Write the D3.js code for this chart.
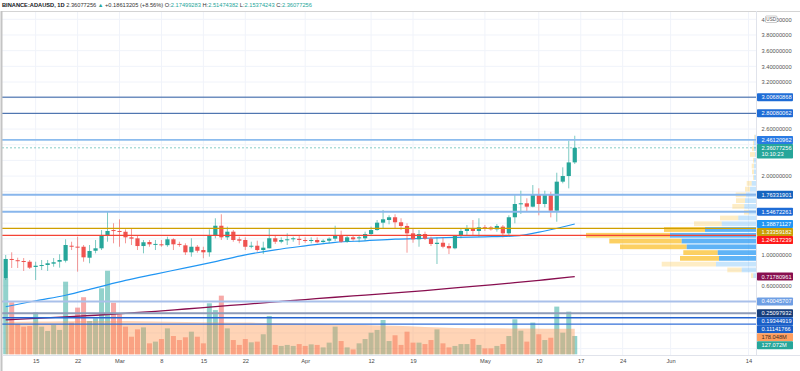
<!DOCTYPE html>
<html>
<head>
<meta charset="utf-8">
<script src="https://cdn.jsdelivr.net/npm/d3@7"></script>
<style>
  body { margin: 0; background: #fff; }
  svg { display: block; font-family: "Liberation Sans", Arial, sans-serif; }
</style>
</head>
<body>
<script>
// ---- data ----
const firstDay = "2021-02-10";
const opens = [0.696, 0.943, 0.927, 0.917, 0.908, 0.841, 0.853, 0.866, 0.883, 0.908,
  0.921, 1.112, 1.100, 1.099, 0.959, 1.048, 1.079, 1.236, 1.312, 1.300,
  1.290, 1.219, 1.206, 1.108, 1.159, 1.125, 1.130, 1.119, 1.194, 1.135,
  1.117, 1.028, 1.099, 1.057, 1.028, 1.240, 1.367, 1.219, 1.291, 1.194,
  1.185, 1.099, 1.112, 1.057, 1.079, 1.207, 1.163, 1.185, 1.194, 1.200,
  1.185, 1.180, 1.185, 1.159, 1.176, 1.202, 1.240, 1.163, 1.219, 1.207,
  1.207, 1.261, 1.312, 1.406, 1.440, 1.475, 1.411, 1.364, 1.270, 1.194,
  1.261, 1.202, 1.134, 1.150, 1.108, 1.079, 1.236, 1.300, 1.334, 1.300,
  1.347, 1.345, 1.321, 1.355, 1.270, 1.475, 1.644, 1.653, 1.610, 1.759,
  1.644, 1.759, 1.559, 1.929, 2.001, 2.17499283];
const highs = [0.994, 1.028, 0.959, 0.955, 0.930, 0.908, 0.930, 0.930, 0.955, 1.003,
  1.194, 1.163, 1.227, 1.121, 1.121, 1.185, 1.312, 1.546, 1.398, 1.449,
  1.321, 1.334, 1.236, 1.185, 1.185, 1.185, 1.185, 1.227, 1.207, 1.163,
  1.143, 1.207, 1.121, 1.099, 1.321, 1.462, 1.513, 1.355, 1.312, 1.227,
  1.219, 1.163, 1.176, 1.163, 1.334, 1.236, 1.219, 1.270, 1.227, 1.236,
  1.219, 1.219, 1.219, 1.194, 1.219, 1.367, 1.304, 1.236, 1.249, 1.240,
  1.291, 1.355, 1.440, 1.568, 1.500, 1.513, 1.462, 1.398, 1.334, 1.312,
  1.291, 1.227, 1.219, 1.219, 1.143, 1.249, 1.334, 1.376, 1.440, 1.462,
  1.376, 1.364, 1.389, 1.376, 1.500, 1.759, 1.814, 1.717, 1.886, 1.844,
  1.814, 1.800, 2.043, 2.112, 2.452, 2.51474382];
const lows = [0.675, 0.828, 0.828, 0.790, 0.815, 0.675, 0.802, 0.790, 0.844, 0.832,
  0.898, 1.057, 0.781, 0.908, 0.888, 1.015, 1.057, 1.163, 1.143, 1.099,
  1.143, 1.121, 1.057, 1.015, 1.099, 1.057, 1.099, 1.099, 1.057, 1.099,
  0.994, 0.972, 1.023, 0.952, 0.972, 1.207, 1.185, 1.185, 1.163, 1.143,
  1.057, 1.079, 1.036, 1.006, 1.079, 1.134, 1.143, 1.121, 1.163, 1.121,
  1.150, 1.143, 1.143, 1.150, 1.143, 1.172, 1.150, 1.150, 1.176, 1.156,
  1.176, 1.236, 1.304, 1.334, 1.385, 1.334, 1.312, 1.023, 1.150, 1.099,
  1.185, 1.108, 0.879, 1.079, 1.006, 1.066, 1.207, 1.249, 1.249, 1.227,
  1.300, 1.304, 1.291, 1.219, 1.249, 1.398, 1.517, 1.546, 1.602, 1.500,
  1.602, 1.474, 1.418, 1.908, 1.844, 2.15374243];
const closes = [0.943, 0.930, 0.915, 0.908, 0.832, 0.857, 0.866, 0.888, 0.901, 0.930,
  1.121, 1.099, 1.090, 0.964, 1.045, 1.079, 1.236, 1.300, 1.300, 1.291,
  1.219, 1.202, 1.108, 1.156, 1.130, 1.135, 1.120, 1.194, 1.130, 1.125,
  1.028, 1.099, 1.048, 1.028, 1.240, 1.367, 1.219, 1.291, 1.185, 1.176,
  1.099, 1.112, 1.057, 1.087, 1.207, 1.163, 1.185, 1.194, 1.207, 1.185,
  1.176, 1.185, 1.156, 1.176, 1.202, 1.240, 1.163, 1.219, 1.194, 1.219,
  1.261, 1.312, 1.406, 1.449, 1.475, 1.411, 1.364, 1.270, 1.194, 1.261,
  1.202, 1.134, 1.150, 1.099, 1.079, 1.236, 1.300, 1.334, 1.300, 1.347,
  1.329, 1.321, 1.364, 1.270, 1.475, 1.644, 1.653, 1.610, 1.759, 1.644,
  1.759, 1.559, 1.929, 2.001, 2.17464051, 2.36077256];
// volume in millions
const volumes = [527, 361, 210, 192, 196, 291, 192, 162, 203, 169,
  504, 220, 324, 396, 231, 250, 458, 580, 358, 277,
  192, 122, 173, 187, 76, 88, 106, 180, 127, 99,
  118, 157, 122, 76, 354, 307, 407, 180, 99, 65,
  106, 83, 88, 139, 266, 65, 58, 65, 58, 71,
  58, 69, 65, 48, 81, 192, 92, 48, 34, 76,
  106, 150, 169, 238, 92, 132, 65, 157, 81, 81,
  71, 99, 173, 76, 48, 58, 71, 71, 106, 65,
  41, 41, 58, 71, 127, 243, 164, 88, 220, 139,
  99, 115, 331, 150, 296, 127.072];

// moving averages read at every 5th bar
const maBars = [0, 5, 10, 15, 20, 25, 30, 35, 40, 45, 50, 55, 60, 65, 70, 75, 80, 85, 90, 95];
const ma50 = [0.334, 0.41, 0.48, 0.575, 0.67, 0.75, 0.83, 0.91, 0.995, 1.06,
  1.11, 1.155, 1.175, 1.196, 1.207, 1.219, 1.225, 1.236, 1.30, 1.389];
const ma200 = [0.165, 0.185, 0.205, 0.225, 0.25, 0.275, 0.305, 0.335, 0.365, 0.395,
  0.425, 0.455, 0.482, 0.51, 0.54, 0.575, 0.607, 0.64, 0.678, 0.71780961];
const volMa = [225, 227, 229, 231, 231, 228, 225, 222, 220, 217,
  214, 209, 204, 198, 190, 183, 180, 179, 178, 178.048];

// horizontal levels drawn on the chart
const levelValues = [3.00680868, 2.80080062, 2.46120962, 1.76331901, 1.54672261,
  0.40045707, 0.25097932, 0.19344919, 0.11141766];
const goldLevel = 1.33359182;
const pocLevel = 1.24517239;
const vahLevel = 1.38871127;

// visible range volume profile (bin centres, bottom to top)
const profileStep = 0.0736;
const profilePrices = [0.7300, 0.8036, 0.8772, 0.9508, 1.0244, 1.0980, 1.1716, 1.2452,
  1.3188, 1.3924, 1.4660, 1.5396, 1.6132, 1.6868, 1.7604, 1.8340, 1.9076,
  1.9812, 2.0548, 2.1284, 2.2020, 2.2756, 2.3492, 2.4228, 2.4964];
const profileUp = [2.7, 14.3, 40, 37, 38.3, 69.3, 74.3, 86, 51, 34.3, 17.7, 7, 11.7,
  11, 10, 6, 4.3, 2, 2, 2, 2, 1, 2, 2, 1];
const profileDown = [2.3, 14.4, 54.3, 39, 34.4, 66.7, 72.4, 84, 41, 27.7, 18.3, 5, 12,
  9, 10.3, 5, 5, 1, 2, 2.3, 1, 5, 2, 1, 1];
const valueAreaLow = 0.9508, valueAreaHigh = 1.3188;

// axis ticks
const priceTicks = [4.0, 3.8, 3.6, 3.4, 3.2, 3.0, 2.8, 2.6, 2.4, 2.2, 2.0, 1.8, 1.6,
  1.4, 1.2, 1.0, 0.8, 0.6, 0.4, 0.2, 0.0, -0.2];
const tickDays = ["2021-02-15", "2021-02-22", "2021-03-01", "2021-03-08", "2021-03-15",
  "2021-03-22", "2021-04-01", "2021-04-12", "2021-04-19", "2021-05-01", "2021-05-10",
  "2021-05-17", "2021-05-24", "2021-06-01", "2021-06-14"];
const tickLabels = ["15", "22", "Mar", "8", "15", "22", "Apr", "12", "19", "May", "10",
  "17", "24", "Jun", "14"];

const lastPrice = closes[closes.length - 1];
const countdown = "10:10:23";

// ---- layout ----
const width = 800, height = 371;
const paneLeft = 2, paneRight = 756, paneTop = 11, paneBottom = 355;
const upColor = "#26a69a", downColor = "#ef5350";

const parseDay = d3.utcParse("%Y-%m-%d");
const day0 = parseDay(firstDay);
const bars = opens.map((o, i) => ({
  date: d3.utcDay.offset(day0, i), o, h: highs[i], l: lows[i], c: closes[i], v: volumes[i]
}));

const x = d3.scaleUtc()
  .domain([day0, bars[bars.length - 1].date])
  .range([5.7, 574.75]);
const y = d3.scaleLinear().domain([0, 4]).range([332.9, 19.3]);
const yVol = d3.scaleLinear().domain([0, 600]).range([354.3, 267.84]);
const wProf = d3.scaleLinear()
  .domain([0, d3.max(profileUp.map((u, i) => u + profileDown[i]))])
  .range([0, 170]);

const svg = d3.select("body").append("svg")
  .attr("width", width)
  .attr("height", height);

svg.append("defs").append("clipPath").attr("id", "pane")
  .append("rect").attr("x", paneLeft).attr("y", paneTop)
  .attr("width", paneRight - paneLeft).attr("height", paneBottom - paneTop);

// Grid
const grid = svg.append("g");
grid.selectAll(".vg").data(tickDays).enter().append("line")
  .attr("x1", d => x(parseDay(d))).attr("x2", d => x(parseDay(d)))
  .attr("y1", paneTop).attr("y2", paneBottom)
  .attr("stroke", "#f0f3fa");
grid.selectAll(".hg").data(priceTicks).enter().append("line")
  .attr("x1", paneLeft).attr("x2", paneRight)
  .attr("y1", d => y(d)).attr("y2", d => y(d))
  .attr("stroke", "#f0f3fa");

const pane = svg.append("g").attr("clip-path", "url(#pane)");

// Volume bars
pane.selectAll(".vol").data(bars).enter().append("rect")
  .attr("x", d => x(d.date) - 2.5)
  .attr("width", 5)
  .attr("y", d => yVol(d.v))
  .attr("height", d => yVol(0) - yVol(d.v))
  .attr("fill", d => d.c >= d.o ? upColor : downColor)
  .attr("fill-opacity", 0.5);

// Volume MA area (drawn over the bars)
const volArea = d3.area()
  .x((d, i) => x(bars[maBars[i]].date))
  .y0(yVol(0))
  .y1(d => yVol(d))
  .curve(d3.curveMonotoneX);
pane.append("path").datum(volMa)
  .attr("d", volArea)
  .attr("fill", "#ff9850")
  .attr("fill-opacity", 0.42);

// Volume profile
const prof = pane.append("g");
profilePrices.forEach((p, i) => {
  const inVa = p >= valueAreaLow - 1e-6 && p <= valueAreaHigh + 1e-6;
  const y0 = y(p + profileStep / 2) + 0.5;
  const h = y(p - profileStep / 2) - y(p + profileStep / 2) - 1;
  const wu = wProf(profileUp[i]);
  const wd = wProf(profileDown[i]);
  prof.append("rect")
    .attr("x", paneRight - wu - wd).attr("y", y0)
    .attr("width", wd).attr("height", h)
    .attr("fill", inVa ? "rgba(251,192,45,0.75)" : "rgba(251,192,45,0.28)");
  prof.append("rect")
    .attr("x", paneRight - wu).attr("y", y0)
    .attr("width", wu).attr("height", h)
    .attr("fill", inVa ? "rgba(33,150,243,0.72)" : "rgba(33,150,243,0.25)");
});

// Moving averages
const maLine = d3.line()
  .x((d, i) => x(bars[maBars[i]].date))
  .y(d => y(d))
  .curve(d3.curveMonotoneX);
pane.append("path").datum(ma200)
  .attr("d", maLine).attr("fill", "none")
  .attr("stroke", "#880e4f").attr("stroke-width", 1.3);
pane.append("path").datum(ma50)
  .attr("d", maLine).attr("fill", "none")
  .attr("stroke", "#2196f3").attr("stroke-width", 1.2);

// Candles
const candles = pane.selectAll(".candle").data(bars).enter().append("g");
candles.append("line")
  .attr("x1", d => x(d.date)).attr("x2", d => x(d.date))
  .attr("y1", d => y(d.h)).attr("y2", d => y(d.l))
  .attr("stroke", d => d.c >= d.o ? upColor : downColor)
  .attr("stroke-opacity", 0.6);
candles.append("rect")
  .attr("x", d => x(d.date) - 2.1)
  .attr("width", 4.2)
  .attr("y", d => y(Math.max(d.o, d.c)))
  .attr("height", d => Math.max(1, Math.abs(y(d.o) - y(d.c))))
  .attr("fill", d => d.c >= d.o ? upColor : downColor);

// Horizontal levels
const levelStyle = [
  { stroke: "#2b5aa0", w: 1 },
  { stroke: "#2b5aa0", w: 1 },
  { stroke: "#8cbcee", w: 1.8 },
  { stroke: "#88b6ec", w: 2 },
  { stroke: "#88b6ec", w: 2 },
  { stroke: "#a9c0ea", w: 2 },
  { stroke: "#8e9bb8", w: 2 },
  { stroke: "#2563cf", w: 1.3 },
  { stroke: "#3570d8", w: 1.2 }
];
pane.selectAll(".lvl").data(levelValues).enter().append("line")
  .attr("x1", paneLeft).attr("x2", paneRight)
  .attr("y1", d => y(d)).attr("y2", d => y(d))
  .attr("stroke", (d, i) => levelStyle[i].stroke)
  .attr("stroke-width", (d, i) => levelStyle[i].w);
pane.append("line")
  .attr("x1", paneLeft).attr("x2", paneRight)
  .attr("y1", y(goldLevel)).attr("y2", y(goldLevel))
  .attr("stroke", "#cf9f00").attr("stroke-width", 1.2);
pane.append("line")
  .attr("x1", paneLeft).attr("x2", paneRight)
  .attr("y1", y(pocLevel)).attr("y2", y(pocLevel))
  .attr("stroke", "#f44336").attr("stroke-width", 1.3);
pane.append("line")
  .attr("x1", paneLeft).attr("x2", paneRight)
  .attr("y1", y(lastPrice)).attr("y2", y(lastPrice))
  .attr("stroke", upColor).attr("stroke-opacity", 0.55)
  .attr("stroke-dasharray", "2,2");

// Frame
svg.append("line").attr("x1", paneLeft).attr("x2", width).attr("y1", paneTop + 0.5).attr("y2", paneTop + 0.5)
  .attr("stroke", "#d4d4d4");
svg.append("line").attr("x1", 1.5).attr("x2", 1.5).attr("y1", paneTop).attr("y2", height)
  .attr("stroke", "#c4c4c4").attr("stroke-width", 2);
svg.append("line").attr("x1", paneRight + 0.5).attr("x2", paneRight + 0.5).attr("y1", paneTop).attr("y2", paneBottom)
  .attr("stroke", "#e0e3eb");
svg.append("line").attr("x1", paneLeft).attr("x2", width).attr("y1", paneBottom + 0.5).attr("y2", paneBottom + 0.5)
  .attr("stroke", "#e0e3eb");

// Price-axis labels (positions resolved first so covered ticks can be dropped)
const fmt = d3.format(".8f");
const labelStyle = [
  { bg: "#1e6cd6" }, { bg: "#1e6cd6" }, { bg: "#2a7be4" }, { bg: "#1565c0" },
  { bg: "#1e6cd6" }, { bg: "#6f9fe4" }, { bg: "#163d7a" }, { bg: "#1a5fc8" },
  { bg: "#1a5fc8" }
];
const labels = levelValues.map((v, i) => ({ y: y(v), text: fmt(v), bg: labelStyle[i].bg, fg: "#fff" }));
labels.push({ y: y(lastPrice), text: fmt(lastPrice), sub: countdown, bg: upColor, fg: "#fff" });
labels.push({ y: y(vahLevel), text: fmt(vahLevel), bg: "#2196f3", fg: "#fff" });
labels.push({ y: y(goldLevel), text: fmt(goldLevel), bg: "#c8a005", fg: "#fff" });
labels.push({ y: y(pocLevel), text: fmt(pocLevel), bg: "#ff1a1a", fg: "#fff" });
labels.push({ y: y(ma200[ma200.length - 1]), text: fmt(ma200[ma200.length - 1]), bg: "#880e4f", fg: "#fff" });
labels.push({ y: yVol(volMa[volMa.length - 1]), text: d3.format(".3f")(volMa[volMa.length - 1]) + "M", bg: "#ff9e5e", fg: "#3b2b1f" });
labels.push({ y: yVol(volumes[volumes.length - 1]), text: d3.format(".3f")(volumes[volumes.length - 1]) + "M", bg: upColor, fg: "#fff" });

labels.sort((a, b) => a.y - b.y);
let prevBottom = -Infinity;
labels.forEach(l => {
  const h = l.sub ? 14.5 : 8;
  const t = Math.max(l.y - 4, prevBottom);
  l.y = t + 4;
  l.h = h;
  prevBottom = t + h;
});

const shownTicks = priceTicks.filter(t => {
  const ty = y(t);
  return !labels.some(l => ty > l.y - 4 - 3 && ty < l.y - 4 + l.h + 3);
});

// Axes
const yAxis = svg.append("g")
  .attr("transform", `translate(${paneRight},0)`)
  .call(d3.axisRight(y).tickValues(shownTicks).tickSize(0).tickPadding(5.5)
    .tickFormat(d3.format(".8f")));
yAxis.select(".domain").remove();
yAxis.selectAll("text").attr("fill", "#555").style("font-size", "5.7px")
  .style("font-family", "Liberation Sans, Arial, sans-serif");

const xAxis = svg.append("g")
  .attr("transform", `translate(0,${paneBottom})`)
  .call(d3.axisBottom(x).tickValues(tickDays.map(parseDay)).tickSize(0).tickPadding(4)
    .tickFormat((d, i) => tickLabels[i]));
xAxis.select(".domain").remove();
xAxis.selectAll("text").attr("fill", "#4a4a4a").style("font-size", "5.7px")
  .style("font-family", "Liberation Sans, Arial, sans-serif");

const lab = svg.append("g").selectAll("g").data(labels).enter().append("g");
lab.append("rect")
  .attr("x", paneRight + 1).attr("y", d => d.y - 4)
  .attr("width", 36).attr("height", d => d.h)
  .attr("rx", 0.8)
  .attr("fill", d => d.bg);
lab.append("text")
  .attr("x", paneRight + 5.5).attr("y", d => d.y).attr("dy", "0.35em")
  .attr("fill", d => d.fg)
  .style("font-size", "5.7px")
  .text(d => d.text);
lab.filter(d => d.sub).append("text")
  .attr("x", paneRight + 5.5).attr("y", d => d.y + 6.3).attr("dy", "0.35em")
  .attr("fill", "#fff")
  .style("font-size", "5.7px")
  .text(d => d.sub);

// Currency badge, sitting on the top tick like the original
svg.append("rect").attr("x", 765.5).attr("y", 16).attr("width", 11.5).attr("height", 6.5)
  .attr("rx", 1).attr("fill", "#fff").attr("stroke", "#aaa").attr("stroke-width", 0.6);
svg.append("text").attr("x", 771.2).attr("y", 19.4).attr("dy", "0.35em")
  .attr("text-anchor", "middle").attr("fill", "#555").style("font-size", "4.6px").text("USD");

// Header
const prevClose = closes[closes.length - 2];
const change = lastPrice - prevClose;
const header = svg.append("text").attr("x", 2).attr("y", 7.3).style("font-size", "5.7px");
header.append("tspan").attr("font-weight", "bold").attr("fill", "#131722").text("BINANCE:ADAUSD, 1D");
header.append("tspan").attr("fill", "#333").text(" " + fmt(lastPrice) + " ");
header.append("tspan").attr("fill", upColor).text("\u25B2");
header.append("tspan").attr("fill", "#333")
  .text(" +" + fmt(change) + " (+" + d3.format(".2f")(change / prevClose * 100) + "%) ");
[["O:", opens], ["H:", highs], ["L:", lows], ["C:", closes]].forEach(([k, arr], i) => {
  header.append("tspan").attr("fill", "#333").text((i ? " " : "") + k);
  header.append("tspan").attr("fill", upColor).text(fmt(arr[arr.length - 1]));
});
</script>
</body>
</html>
